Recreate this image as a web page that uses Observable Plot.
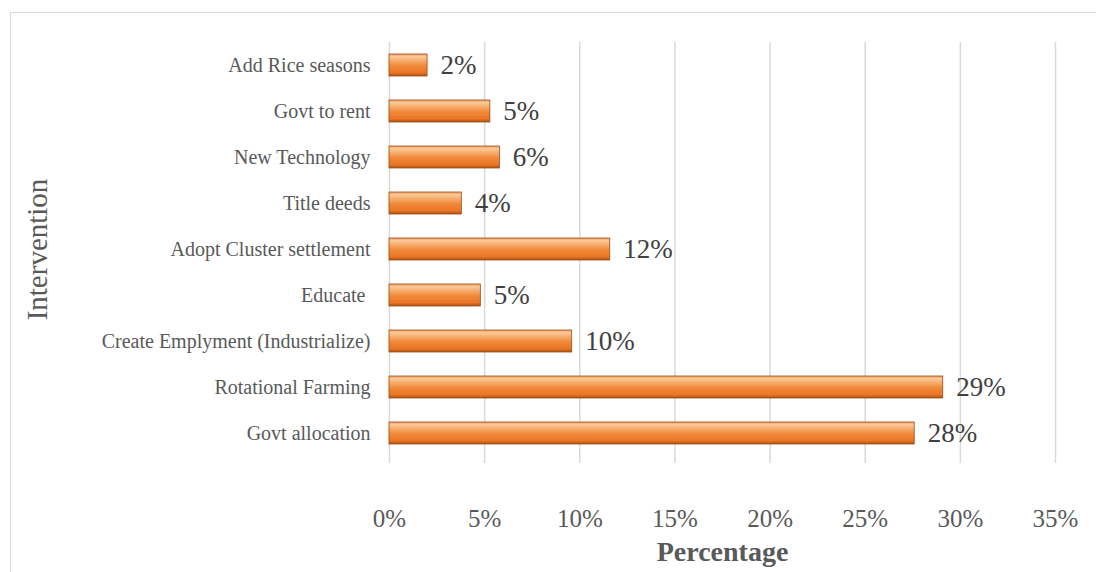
<!DOCTYPE html>
<html>
<head>
<meta charset="utf-8">
<script src="https://cdn.jsdelivr.net/npm/d3@7"></script>
<script src="https://cdn.jsdelivr.net/npm/@observablehq/plot@0.6"></script>
<style>
  body { margin: 0; background: #fff; }
  #wrap { position: relative; width: 1096px; height: 572px; overflow: hidden; }
  #border { position: absolute; left: 10px; top: 12px; width: 1100px; height: 600px; border-left: 1.5px solid #d9d9d9; border-top: 1.5px solid #d9d9d9; box-sizing: border-box; pointer-events: none; }
  svg { font-family: "Liberation Serif", "Times New Roman", serif; }
</style>
</head>
<body>
<div id="wrap"><div id="border"></div></div>
<script>
const categories = ["Add Rice seasons", "Govt to rent", "New Technology", "Title deeds", "Adopt Cluster settlement", "Educate ", "Create Emplyment (Industrialize)", "Rotational Farming", "Govt allocation"];
const values = [2.0, 5.3, 5.8, 3.8, 11.6, 4.8, 9.6, 29.1, 27.6];
const labels = ["2%", "5%", "6%", "4%", "12%", "5%", "10%", "29%", "28%"];
const xTicks = [0, 5, 10, 15, 20, 25, 30, 35];

const data = categories.map((c, i) => ({cat: c, v: values[i], lab: labels[i]}));
const serif = '"Liberation Serif", "Times New Roman", serif';

const chart = Plot.plot({
  width: 1096,
  height: 572,
  marginLeft: 389,
  marginRight: 41,
  marginTop: 42,
  marginBottom: 116,
  style: {fontFamily: serif, background: "transparent"},
  x: {domain: [0, 35], ticks: xTicks, tickFormat: d => d + "%"},
  y: {domain: categories, paddingInner: 0.53, paddingOuter: 0.265},
  marks: [
    Plot.ruleX(xTicks, {stroke: "#d9d9d9", strokeWidth: 1.5, insetBottom: -7}),
    Plot.barX(data, {y: "cat", x: "v", fill: "url(#barGrad)", stroke: "#a04a10", strokeWidth: 0.8}),
    Plot.text(data, {y: "cat", x: "v", text: "lab", textAnchor: "start", dx: 13, fontSize: 27, fontFamily: serif, fill: "#404040"}),
    Plot.axisX({ticks: xTicks, tickFormat: d => d + "%", tickSize: 0, tickPadding: 53, fontSize: 25, fontFamily: serif, color: "#595959", label: null}),
    Plot.axisY({tickSize: 0, tickPadding: 19, fontSize: 20, fontFamily: serif, color: "#595959", label: null}),
    Plot.text(["Percentage"], {frameAnchor: "bottom", textAnchor: "middle", lineAnchor: "middle", dy: 96, fontSize: 28, fontWeight: "bold", fontFamily: serif, fill: "#595959"}),
    Plot.text(["Intervention"], {frameAnchor: "left", textAnchor: "middle", lineAnchor: "middle", dx: -352, rotate: -90, fontSize: 29, fontFamily: serif, fill: "#595959"})
  ]
});

const ns = "http://www.w3.org/2000/svg";
const defs = document.createElementNS(ns, "defs");
defs.innerHTML = `<linearGradient id="barGrad" x1="0" y1="0" x2="0" y2="1">
  <stop offset="0" stop-color="#f0a064"/>
  <stop offset="0.12" stop-color="#fbc998"/>
  <stop offset="0.3" stop-color="#f7ad6c"/>
  <stop offset="0.55" stop-color="#f08838"/>
  <stop offset="0.85" stop-color="#ea7626"/>
  <stop offset="1" stop-color="#a8520f"/>
</linearGradient>`;
chart.insertBefore(defs, chart.firstChild);
document.getElementById("wrap").appendChild(chart);
chart.style.position = "absolute";
chart.style.left = "0";
chart.style.top = "0";
</script>
</body>
</html>
